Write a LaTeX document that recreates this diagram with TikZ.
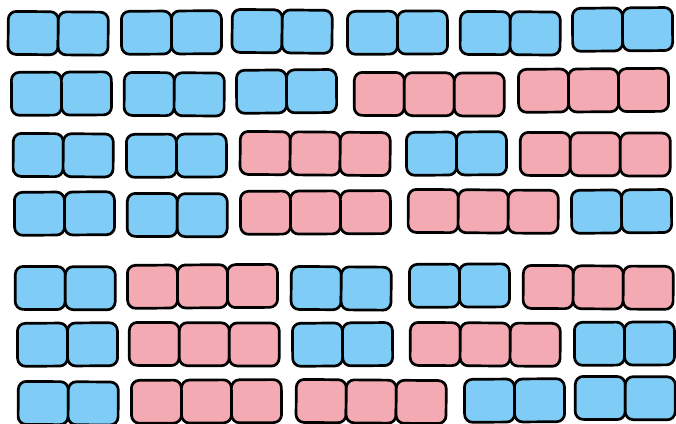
\documentclass[tikz,border=0pt]{standalone}
\definecolor{bluefill}{RGB}{127,205,247}
\definecolor{pinkfill}{RGB}{243,170,178}
\tikzset{cell/.style={draw=black, line width=2.7pt, rounded corners=8pt, minimum width=50pt, minimum height=43pt, inner sep=0pt, outer sep=0pt, anchor=north west}}
\begin{document}
\begin{tikzpicture}[x=1pt,y=-1pt]
\useasboundingbox (0,0) rectangle (676,423);
\foreach \r/\g/\x/\y/\n/\c/\a in {
 1/1/7/10/2/bluefill/-0.5, 1/2/120/10/2/bluefill/0.4, 1/3/231/8/2/bluefill/-0.6, 1/4/346/10/2/bluefill/0.3, 1/5/459/10/2/bluefill/-0.4, 1/6/571/7/2/bluefill/0.5,
 2/1/10/71/2/bluefill/0.3, 2/2/123/71/2/bluefill/-0.4, 2/3/235/69/2/bluefill/0.5, 2/4/353/71/3/pinkfill/-0.3, 2/5/517/68/3/pinkfill/0.4,
 3/1/12/132/2/bluefill/-0.4, 3/2/125/133/2/bluefill/0.3, 3/3/239/130/3/pinkfill/-0.5, 3/4/405/131/2/bluefill/0.4, 3/5/519/131/3/pinkfill/-0.3,
 4/1/13/191/2/bluefill/0.4, 4/2/126/192/2/bluefill/-0.3, 4/3/239/190/3/pinkfill/0.3, 4/4/407/188/3/pinkfill/-0.4, 4/5/570/189/2/bluefill/0.5,
 5/1/14/265/2/bluefill/-0.3, 5/2/126/264/3/pinkfill/0.4, 5/3/290/265/2/bluefill/-0.5, 5/4/408/263/2/bluefill/0.3, 5/5/522/264/3/pinkfill/-0.4,
 6/1/16/322/2/bluefill/0.4, 6/2/128/321/3/pinkfill/-0.3, 6/3/291/322/2/bluefill/0.5, 6/4/409/321/3/pinkfill/-0.4, 6/5/573/321/2/bluefill/0.3,
 7/1/17/380/2/bluefill/-0.4, 7/2/130/379/3/pinkfill/0.3, 7/3/295/378/3/pinkfill/-0.5, 7/4/463/378/2/bluefill/0.4, 7/5/574/375/2/bluefill/-0.3}{
  \node[cell, fill=\c, rotate=\a] (s\r-\g-1) at ({\x+1.35},{\y+1.35}) {};
  \foreach \i in {2,...,\n}{
    \pgfmathtruncatemacro\j{\i-1}
    \node[cell, fill=\c, rotate=\a] (s\r-\g-\i) at (s\r-\g-\j.north east) {};
  }
}
\end{tikzpicture}
\end{document}
